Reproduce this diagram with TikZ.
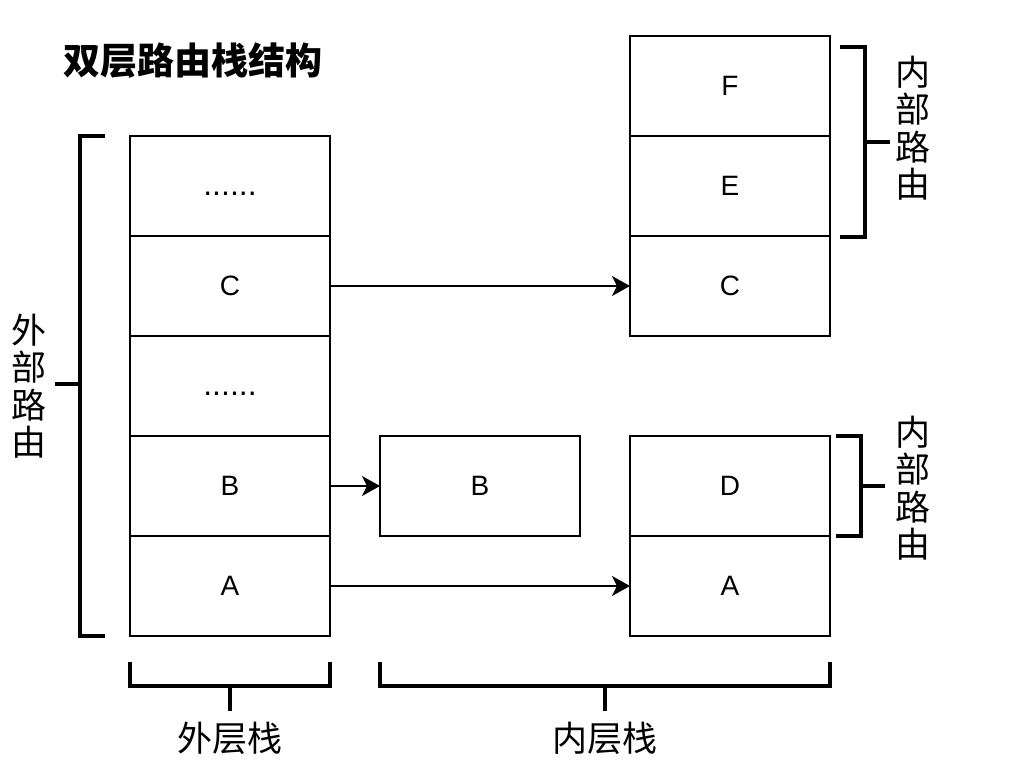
\documentclass[tikz,border=0pt]{standalone}
\usepackage{fontspec}
\setmainfont{Liberation Sans}
\newfontfamily\cjk{Noto Sans CJK SC}
\usetikzlibrary{positioning,arrows.meta}

\tikzset{
	cell/.style={draw, line width=1pt, minimum width=100pt, minimum height=50pt, inner sep=0pt, outer sep=0pt, text height=10pt, text depth=0pt, font=\fontsize{14}{16}\selectfont},
	brace/.style={line width=2pt},
	link/.style={line width=1pt, -{Stealth[length=9pt,width=10pt,inset=2.5pt]}},
	lbl/.style={font=\cjk\fontsize{17.5}{18.75}\selectfont, align=center, inner sep=0pt}
}

\begin{document}
\begin{tikzpicture}[x=0.5pt,y=-0.5pt]

	\useasboundingbox (0,0) rectangle (1014,780);

	\node[lbl, font=\cjk\bfseries\fontsize{18.5}{20}\selectfont, anchor=west] at (63,61) (T) {双层路由栈结构};

	\node[cell, anchor=north west] at (130,136) (O5) {\fontsize{16}{16}\selectfont......};
	\node[cell, anchor=north] at (O5.south) (O4) {C};
	\node[cell, anchor=north] at (O4.south) (O3) {\fontsize{16}{16}\selectfont......};
	\node[cell, anchor=north] at (O3.south) (O2) {B};
	\node[cell, anchor=north] at (O2.south) (O1) {A};

	\node[cell, anchor=north west] at (380,436) (M1) {B};

	\node[cell, anchor=north west] at (630,36) (I3) {F};
	\node[cell, anchor=north] at (I3.south) (I2) {E};
	\node[cell, anchor=north] at (I2.south) (I1) {C};

	\node[cell, anchor=north west] at (630,436) (J2) {D};
	\node[cell, anchor=north] at (J2.south) (J1) {A};

	\draw[link] (O4.east) -- (I1.west);
	\draw[link] (O2.east) -- (M1.west);
	\draw[link] (O1.east) -- (J1.west);

	\draw[brace] (105,136) -- (80,136) -- (80,636) -- (105,636);
	\draw[brace] (80,384) -- (55,384);
	\node[lbl] at (29,386) (L1) {外\\部\\路\\由};

	\draw[brace] (840,47) -- (865,47) -- (865,237) -- (840,237);
	\draw[brace] (865,142) -- (890,142);
	\node[lbl] at (913,128) (L2) {内\\部\\路\\由};

	\draw[brace] (836,436) -- (861,436) -- (861,536) -- (836,536);
	\draw[brace] (861,486) -- (885,486);
	\node[lbl] at (913,488) (L3) {内\\部\\路\\由};

	\draw[brace] (130,662) -- (130,686) -- (330,686) -- (330,662);
	\draw[brace] (230,686) -- (230,711);
	\node[lbl] at (230,738) (L4) {外层栈};

	\draw[brace] (380,662) -- (380,686) -- (830,686) -- (830,662);
	\draw[brace] (605,686) -- (605,711);
	\node[lbl] at (605,738) (L5) {内层栈};

\end{tikzpicture}
\end{document}
